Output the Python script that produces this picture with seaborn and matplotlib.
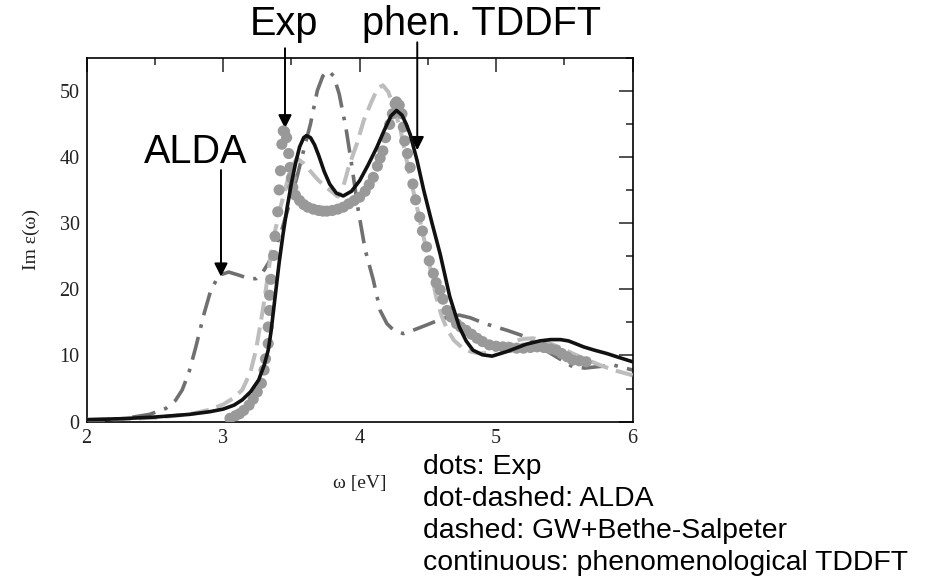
import matplotlib
matplotlib.use("Agg")
import matplotlib.pyplot as plt
from matplotlib.ticker import MultipleLocator
import seaborn as sns
import pandas as pd

# experiment (dots)
exp_x = [3.05, 3.09, 3.12, 3.15, 3.19, 3.22, 3.25, 3.28, 3.30, 3.31, 3.33, 3.33,
         3.34, 3.34, 3.35, 3.37, 3.38, 3.40, 3.41, 3.42, 3.43, 3.44, 3.45, 3.465,
         3.48, 3.49, 3.50, 3.51, 3.53, 3.56, 3.59, 3.62, 3.66, 3.70, 3.73, 3.76,
         3.80, 3.84, 3.88, 3.92, 3.96, 4.00, 4.04, 4.07, 4.10, 4.13, 4.15, 4.17,
         4.19, 4.22, 4.24, 4.26, 4.27, 4.29, 4.31, 4.32, 4.33, 4.35, 4.37, 4.39,
         4.41, 4.44, 4.46, 4.49, 4.51, 4.54, 4.56, 4.59, 4.61, 4.64, 4.67, 4.71,
         4.74, 4.78, 4.82, 4.86, 4.90, 4.95, 5.00, 5.05, 5.10, 5.15, 5.20, 5.25,
         5.30, 5.35, 5.40, 5.44, 5.48, 5.52, 5.56, 5.61, 5.66]
exp_y = [0.5, 0.9, 1.2, 1.7, 2.5, 3.4, 4.5, 5.8, 7.8, 9.5, 11.8, 14.3,
         16.8, 19.1, 21.5, 25.1, 28.0, 31.7, 35.0, 37.9, 41.9, 43.9, 43.8, 42.9,
         40.5, 38.4, 36.8, 35.4, 34.2, 33.4, 32.8, 32.4, 32.1, 31.9, 31.8, 31.8,
         31.9, 32.1, 32.4, 32.9, 33.4, 33.9, 34.8, 35.8, 36.9, 38.6, 39.8, 40.9,
         42.9, 44.9, 46.5, 48.0, 48.3, 47.8, 46.5, 44.5, 42.4, 40.5, 38.4, 35.9,
         33.5, 30.9, 28.8, 26.4, 24.3, 22.4, 21.0, 19.9, 18.5, 16.8, 15.8, 14.8,
         14.3, 13.8, 13.2, 12.6, 12.1, 11.6, 11.4, 11.3, 11.2, 11.1, 11.1, 11.2,
         11.3, 11.2, 11.0, 10.8, 10.3, 9.8, 9.3, 9.2, 9.05]

# ALDA (dot-dashed)
alda_x = [2.00, 2.25, 2.46, 2.58, 2.65, 2.70, 2.75, 2.80, 2.86, 2.91, 2.97, 3.04,
          3.12, 3.19, 3.24, 3.29, 3.33, 3.38, 3.43, 3.48, 3.54, 3.59, 3.64, 3.69,
          3.73, 3.77, 3.81, 3.85, 3.90, 3.94, 3.99, 4.04, 4.10, 4.15, 4.20, 4.25,
          4.32, 4.39, 4.49, 4.61, 4.73, 4.81, 4.92, 5.08, 5.22, 5.32, 5.44, 5.56,
          5.65, 5.74, 5.86, 6.00]
alda_y = [0.2, 0.4, 1.1, 2.0, 3.2, 4.8, 7.5, 11.3, 16.3, 19.9, 22.1, 22.6,
          22.1, 21.6, 21.6, 22.6, 23.9, 26.0, 29.0, 32.5, 36.9, 41.0, 45.0, 50.0,
          52.2, 53.0, 52.2, 49.5, 44.3, 39.0, 31.9, 26.0, 21.4, 16.8, 14.8, 13.8,
          13.3, 13.8, 14.6, 15.6, 16.1, 15.7, 14.8, 13.8, 12.8, 11.3, 9.8, 8.3,
          8.1, 8.3, 8.55, 7.8]

# GW + Bethe-Salpeter (dashed)
gw_x = [2.00, 2.25, 2.50, 2.75, 2.90, 3.00, 3.07, 3.14, 3.20, 3.24, 3.29, 3.32,
        3.35, 3.38, 3.42, 3.46, 3.49, 3.54, 3.59, 3.64, 3.70, 3.78, 3.84, 3.88,
        3.92, 3.98, 4.03, 4.08, 4.13, 4.17, 4.21, 4.25, 4.30, 4.34, 4.38, 4.42,
        4.49, 4.52, 4.56, 4.60, 4.64, 4.69, 4.75, 4.81, 4.88, 4.95, 5.03, 5.12,
        5.20, 5.27, 5.35, 5.42, 5.49, 5.56, 5.66, 5.76, 5.86, 6.00]
gw_y = [0.3, 0.4, 0.6, 1.1, 1.8, 2.6, 3.5, 4.8, 7.5, 10.8, 16.8, 21.0,
        25.4, 28.8, 32.4, 35.5, 37.9, 39.8, 39.0, 37.8, 36.4, 35.0, 34.0, 35.5,
        38.5, 42.0, 45.5, 48.0, 50.3, 50.8, 49.8, 47.5, 44.0, 39.9, 36.0, 32.4,
        25.9, 22.9, 18.9, 16.0, 14.0, 12.3, 11.2, 10.6, 10.3, 10.4, 11.2, 12.1,
        12.5, 12.6, 12.2, 11.6, 11.0, 10.3, 9.4, 8.55, 7.8, 7.0]

# phenomenological TDDFT (continuous)
tddft_x = [2.00, 2.25, 2.50, 2.75, 2.90, 3.00, 3.08, 3.14, 3.20, 3.26, 3.30, 3.33,
           3.35, 3.37, 3.39, 3.41, 3.44, 3.47, 3.50, 3.53, 3.56, 3.59, 3.61, 3.64,
           3.67, 3.70, 3.74, 3.78, 3.83, 3.88, 3.94, 4.00, 4.06, 4.125, 4.18, 4.23,
           4.27, 4.31, 4.34, 4.37, 4.42, 4.47, 4.53, 4.59, 4.66, 4.73, 4.78, 4.83,
           4.90, 4.97, 5.08, 5.22, 5.32, 5.40, 5.47, 5.53, 5.58, 5.64, 5.72, 5.81,
           5.90, 6.00]
tddft_y = [0.3, 0.45, 0.7, 1.1, 1.5, 1.9, 2.5, 3.3, 4.5, 6.3, 8.5, 10.8,
           13.5, 17.0, 20.5, 24.0, 28.5, 32.5, 36.0, 39.0, 41.5, 42.9, 43.2, 42.9,
           41.8, 40.2, 37.8, 35.9, 34.5, 34.1, 34.8, 36.4, 38.7, 41.4, 44.0, 46.2,
           47.0, 46.3, 45.0, 43.4, 39.5, 34.9, 30.0, 25.3, 18.9, 14.3, 12.2, 10.8,
           10.1, 9.9, 10.6, 11.7, 12.2, 12.4, 12.4, 12.2, 11.8, 11.3, 10.8, 10.3,
           9.7, 9.05]

sns.set_style("white")
plt.rcParams["font.family"] = ["Liberation Serif", "DejaVu Serif"]
plt.rcParams["text.color"] = "black"

fig = plt.figure(figsize=(9.26, 5.81), dpi=100)
ax = fig.add_axes([0.0936, 0.2742, 0.5896, 0.6268])

alda = pd.DataFrame({"w": alda_x, "eps": alda_y})
gw = pd.DataFrame({"w": gw_x, "eps": gw_y})
exp = pd.DataFrame({"w": exp_x, "eps": exp_y})
tddft = pd.DataFrame({"w": tddft_x, "eps": tddft_y})

sns.lineplot(data=alda, x="w", y="eps", ax=ax, color="#707070", lw=2.6,
             linestyle=(0, (6.5, 2.6, 1.0, 2.6)), sort=False, zorder=2)
sns.lineplot(data=gw, x="w", y="eps", ax=ax, color="#bdbdbd", lw=2.9,
             linestyle=(0, (4.5, 2.0)), sort=False, zorder=3)
sns.scatterplot(data=exp, x="w", y="eps", ax=ax, color="#999999", s=64,
                edgecolor="none", linewidth=0, zorder=4)
sns.lineplot(data=tddft, x="w", y="eps", ax=ax, color="#111111", lw=2.6,
             sort=False, zorder=5)

ax.set_xlim(2, 6)
ax.set_ylim(0, 55)
ax.xaxis.set_major_locator(MultipleLocator(1))
ax.xaxis.set_minor_locator(MultipleLocator(0.5))
ax.yaxis.set_major_locator(MultipleLocator(10))
ax.yaxis.set_minor_locator(MultipleLocator(5))
ax.tick_params(which="both", direction="in", top=True, right=True,
               colors="#222222", labelcolor="#222222", labelsize=14.5)
ax.tick_params(which="major", length=10, width=1.1, pad=5)
ax.tick_params(which="minor", length=5, width=1.1)
for sp in ax.spines.values():
    sp.set_color("black")
    sp.set_linewidth(1.2)

ax.set_xlabel("ω [eV]", fontsize=14, labelpad=20, color="#222222")
ax.set_ylabel("Im ε(ω)", fontsize=14, labelpad=14, color="#222222")

# labels with arrows
sans = ["Liberation Sans", "DejaVu Sans"]
ax.text(3.444, 58.45, "Exp", fontsize=28.5, family=sans, ha="center",
        va="baseline", clip_on=False, color="black")
ax.text(4.889, 58.45, "phen. TDDFT", fontsize=28.5, family=sans, ha="center",
        va="baseline", clip_on=False, color="black")
ax.text(2.797, 39.0, "ALDA", fontsize=28.5, family=sans, ha="center",
        va="baseline", clip_on=False, color="black")
arrow = dict(arrowstyle="-|>", color="black", lw=1.4, mutation_scale=20,
             shrinkA=0, shrinkB=0)
ax.annotate("", xy=(3.453, 44.3), xytext=(3.453, 56.4), arrowprops=arrow,
            annotation_clip=False)
ax.annotate("", xy=(4.422, 41.0), xytext=(4.422, 57.3), arrowprops=arrow,
            annotation_clip=False)
ax.annotate("", xy=(2.984, 21.9), xytext=(2.984, 38.0), arrowprops=arrow,
            annotation_clip=False)

# legend text below the plot
notes = ["dots: Exp", "dot-dashed: ALDA", "dashed: GW+Bethe-Salpeter",
         "continuous: phenomenological TDDFT"]
baselines = [474, 506, 538, 570]
for txt, yb in zip(notes, baselines):
    fig.text(423 / 926, 1 - yb / 581, txt, fontsize=20.4, family=sans,
             va="baseline", ha="left", color="black")

fig.savefig("out.png", dpi=100)
